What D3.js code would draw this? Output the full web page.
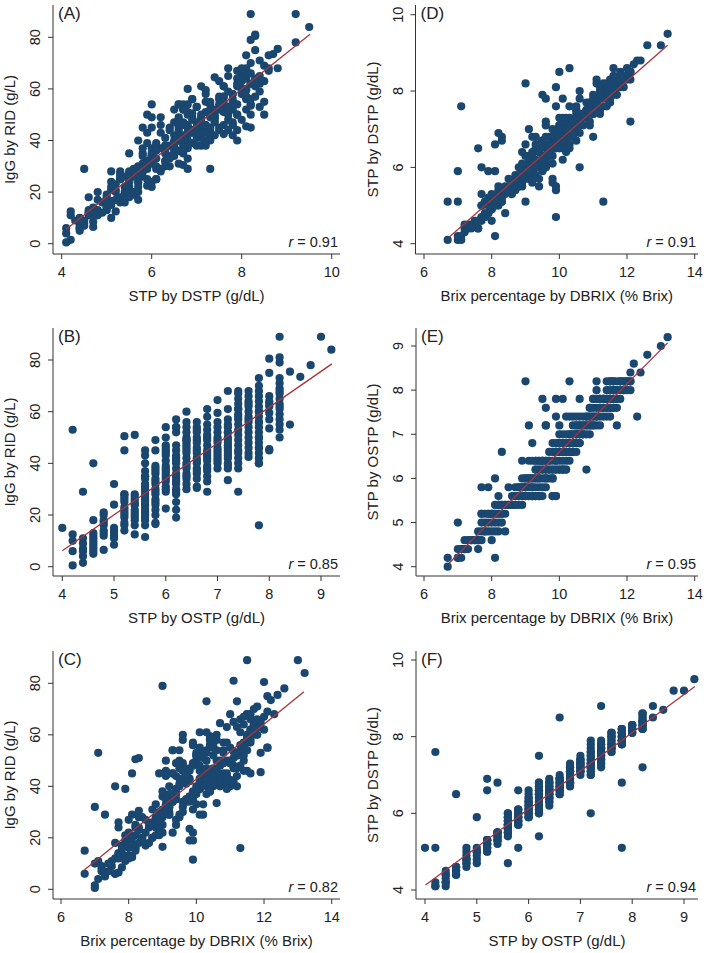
<!DOCTYPE html>
<html><head><meta charset="utf-8">
<script src="https://cdn.jsdelivr.net/npm/d3@7"></script>
<style>
body{margin:0;background:#fff}
text{font-family:Arial,"Liberation Sans",sans-serif;fill:#222}
</style>
</head><body>
<svg id="c" width="709" height="953"></svg>
<script>
// One record per calf: Brix (DBRIX), STP by DSTP, STP by OSTP, IgG by RID
const brix = [
 6.7,
 6.7,7.0,7.1,8.1,7.0,
 7.0,7.1,7.1,7.2,7.3,7.2,7.6,
 7.3,7.4,7.5,7.5,7.6,7.7,7.2,8.0,7.6,7.6,7.4,
 7.6,7.7,7.8,7.9,8.0,8.1,8.2,8.4,7.8,
 7.0,7.8,7.9,8.0,8.1,8.2,8.3,7.7,
 8.1,8.2,7.7,7.8,7.9,8.0,8.0,8.1,8.2,8.3,8.4,7.7,
 8.3,8.1,8.2,8.3,8.4,8.5,8.6,8.7,8.8,8.9,8.2,
 9.9,9.8,9.9,9.8,8.2,8.6,8.7,8.8,8.9,9.0,9.1,9.2,9.3,9.4,9.5,9.3,8.8,
 7.7,7.9,9.0,9.0,8.7,8.8,8.9,9.1,9.2,9.3,9.4,9.6,9.0,
 8.1,8.9,9.0,9.1,9.2,9.3,9.4,9.5,9.6,9.7,9.8,9.3,9.2,
 9.9,10.8,9.3,9.4,9.5,9.6,9.6,9.7,9.8,9.9,10.0,10.1,10.2,10.0,10.1,
 8.9,9.1,9.2,9.3,9.4,9.5,9.6,9.7,9.8,9.9,10.0,10.2,9.5,9.6,
 8.3,10.0,9.8,9.9,10.0,10.1,10.2,10.3,10.4,10.1,10.2,10.3,10.4,
 9.2,9.9,10.0,10.1,10.2,10.3,10.4,10.5,10.0,10.2,10.3,10.4,10.1,
 10.0,10.3,10.4,10.5,10.6,10.7,10.3,10.5,10.6,10.4,10.7,
 9.1,9.6,9.6,10.0,10.6,11.7,10.4,10.5,10.6,10.7,10.8,10.9,11.0,11.1,10.8,
 9.9,10.3,12.3,10.2,10.4,10.7,10.8,10.9,11.0,11.1,10.8,11.0,11.5,10.9,11.1,
 9.6,11.0,11.1,11.2,11.3,11.4,11.5,11.6,11.7,11.3,11.5,
 11.3,11.0,9.5,9.9,10.1,10.6,11.1,11.2,11.3,11.4,11.5,11.6,11.7,11.4,11.6,11.5,11.7,11.2,
 11.9,11.1,11.5,11.6,11.7,11.8,12.1,12.0,
 9.0,10.3,12.1,11.5,11.1,11.4,11.5,11.6,11.7,11.8,11.9,12.0,12.1,11.8,
 12.1,12.4,12.2,12.6,13.0,13.2,
 7.9,8.0, 8.4,8.6,8.5, 9.0,9.1,9.2,8.7,9.4, 8.8,9.2,9.5,8.9, 9.0,9.4,9.6,9.1,9.8,
 9.4,9.7,10.1,9.5,10.2,9.8, 9.3,9.7,10.1,9.9,10.3,9.4, 9.9,10.3,10.0,10.5,9.7,
 10.1,10.6,9.8,10.4,10.6, 10.2,10.8,10.5,10.1,10.9, 10.7,11.0,10.5,11.2,10.9,
 11.2,10.6,11.3,10.5,11.4, 11.2,10.9,11.6,11.4, 11.3,11.0,11.8,11.5, 11.9,11.4, 12.0,11.6,
 9.1,9.3,9.5,8.9,9.2,11.2,11.6,11.9,10.0,9.9,9.4,10.9,8.5,8.3
];
const dstp = [
 5.1,
 4.1,4.1,7.6,4.2,5.1,
 4.2,4.1,4.2,4.4,4.5,4.3,4.4,
 4.4,4.5,4.5,4.6,4.4,4.6,4.5,4.6,4.6,6.5,4.4,
 4.6,4.7,4.7,4.8,4.9,5.0,5.1,4.8,4.8,
 5.9,4.7,4.8,4.9,5.0,5.0,5.1,5.0,
 6.6,6.9,5.0,5.1,5.0,5.2,5.1,5.2,5.3,5.2,5.3,5.3,
 6.8,5.2,5.3,5.3,5.4,5.4,5.5,5.4,5.5,5.5,5.5,
 4.7,5.6,5.5,5.7,5.4,5.5,5.6,5.7,5.6,5.8,5.7,5.9,5.8,6.0,5.9,6.0,5.5,
 6.0,5.9,5.1,6.6,5.7,5.8,5.8,5.9,5.9,6.0,6.1,6.0,5.7,
 5.9,5.9,6.0,6.1,6.0,6.2,6.1,6.3,6.2,6.4,6.5,6.6,6.3,
 5.4,7.5,6.0,6.1,6.2,6.1,6.3,6.4,6.3,6.5,6.6,6.7,6.8,6.5,6.6,
 6.4,6.3,6.4,6.5,6.4,6.6,6.5,6.6,6.7,6.6,6.8,6.7,6.7,6.8,
 6.7,8.5,6.5,6.6,6.7,6.6,6.8,6.9,6.8,6.9,6.7,6.8,6.9,
 6.8,6.7,6.8,6.9,7.0,6.9,7.1,7.0,7.1,7.2,7.0,7.2,7.1,
 7.1,7.2,7.1,7.3,7.2,7.4,7.3,7.4,7.3,7.2,7.4,
 7.0,7.2,7.1,7.3,6.0,7.9,7.0,7.2,7.3,7.4,7.5,7.6,7.7,7.8,7.3,
 7.6,7.6,8.8,7.3,7.2,7.3,7.4,7.5,7.4,7.6,7.7,7.8,7.7,7.5,7.7,
 7.8,7.6,7.7,7.8,7.9,7.8,8.0,7.9,8.1,8.0,8.1,
 5.1,6.8,7.9,8.1,7.8,8.0,7.8,7.9,8.0,8.1,8.2,8.0,8.2,7.9,8.1,8.0,8.2,8.1,
 8.1,8.2,8.1,8.2,8.3,8.2,8.3,8.3,
 8.2,8.6,7.2,8.2,8.3,8.2,8.3,8.4,8.3,8.5,8.4,8.6,8.5,8.4,
 8.5,8.8,8.7,9.2,9.2,9.5,
 5.2,5.3, 5.5,5.3,5.5, 5.9,5.8,5.6,5.8,5.7, 6.0,5.8,6.1,6.1, 6.3,6.4,6.0,6.2,6.1,
 6.5,6.6,6.2,6.7,6.4,6.8, 6.8,6.3,6.5,6.9,6.6,6.6, 6.9,6.5,7.0,6.7,6.8,
 7.3,6.9,7.0,6.8,7.1, 7.0,7.3,7.5,7.2,7.1, 7.1,7.4,7.6,7.5,7.2,
 7.4,7.8,7.6,7.5,7.9, 8.0,7.7,8.1,7.6, 8.2,7.9,8.1,7.8, 8.3,8.1, 8.4,8.6,
 5.9,6.0,6.2,5.8,5.7,7.9,8.2,8.4,6.8,6.6,5.5,7.7,5.7,5.1
];
const ostp = [
 4.0,
 4.2,4.2,4.2,4.2,4.2,
 4.4,4.4,4.4,4.4,4.4,4.4,4.4,
 4.6,4.6,4.6,4.6,4.6,4.6,4.6,4.6,4.6,4.6,4.6,
 4.8,4.8,4.8,4.8,4.8,4.8,4.8,4.8,4.8,
 5.0,5.0,5.0,5.0,5.0,5.0,5.0,5.0,
 5.2,5.2,5.2,5.2,5.2,5.2,5.2,5.2,5.2,5.2,5.2,5.2,
 5.4,5.4,5.4,5.4,5.4,5.4,5.4,5.4,5.4,5.4,5.4,
 5.6,5.6,5.6,5.6,5.6,5.6,5.6,5.6,5.6,5.6,5.6,5.6,5.6,5.6,5.6,5.6,5.6,
 5.8,5.8,5.8,5.8,5.8,5.8,5.8,5.8,5.8,5.8,5.8,5.8,5.8,
 6.0,6.0,6.0,6.0,6.0,6.0,6.0,6.0,6.0,6.0,6.0,6.0,6.0,
 6.2,6.2,6.2,6.2,6.2,6.2,6.2,6.2,6.2,6.2,6.2,6.2,6.2,6.2,6.2,
 6.4,6.4,6.4,6.4,6.4,6.4,6.4,6.4,6.4,6.4,6.4,6.4,6.4,6.4,
 6.6,6.6,6.6,6.6,6.6,6.6,6.6,6.6,6.6,6.6,6.6,6.6,6.6,
 6.8,6.8,6.8,6.8,6.8,6.8,6.8,6.8,6.8,6.8,6.8,6.8,6.8,
 7.0,7.0,7.0,7.0,7.0,7.0,7.0,7.0,7.0,7.0,7.0,
 7.2,7.2,7.2,7.2,7.2,7.2,7.2,7.2,7.2,7.2,7.2,7.2,7.2,7.2,7.2,
 7.4,7.4,7.4,7.4,7.4,7.4,7.4,7.4,7.4,7.4,7.4,7.4,7.4,7.4,7.4,
 7.6,7.6,7.6,7.6,7.6,7.6,7.6,7.6,7.6,7.6,7.6,
 7.8,7.8,7.8,7.8,7.8,7.8,7.8,7.8,7.8,7.8,7.8,7.8,7.8,7.8,7.8,7.8,7.8,7.8,
 8.0,8.0,8.0,8.0,8.0,8.0,8.0,8.0,
 8.2,8.2,8.2,8.2,8.2,8.2,8.2,8.2,8.2,8.2,8.2,8.2,8.2,8.2,
 8.4,8.4,8.6,8.8,9.0,9.2,
 5.2,5.2, 5.4,5.4,5.4, 5.6,5.6,5.6,5.6,5.6, 5.8,5.8,5.8,5.8, 6.0,6.0,6.0,6.0,6.0,
 6.2,6.2,6.2,6.2,6.2,6.2, 6.4,6.4,6.4,6.4,6.4,6.4, 6.6,6.6,6.6,6.6,6.6,
 6.8,6.8,6.8,6.8,6.8, 7.0,7.0,7.0,7.0,7.0, 7.2,7.2,7.2,7.2,7.2,
 7.4,7.4,7.4,7.4,7.4, 7.6,7.6,7.6,7.6, 7.8,7.8,7.8,7.8, 8.0,8.0, 8.2,8.2,
 6.0,6.2,6.4,5.8,5.6,7.8,8.0,8.2,6.8,6.6,5.6,7.6,5.8,5.2
];
const igg = [
 15,
 6,0.5,53,12.5,10,
 1.5,4,11,7,29,9,6,
 5,7,9,11,6,12,8,13,18,40,10,
 12,6.5,14,13,16,18,21,20,17,
 32,8.5,11,12,13,15,24,14,
 45,50.5,14,16,19,17,22,20,25,23,28,26,
 51,12.5,16,18,20,22,24,26,28,21,24,
 11.5,19,22,23.5,16,18,20,24,26,28,30,32,34,37,43,45,21,
 24,39,16.5,36,20,26,28,30,32,34,38,49,22,
 29,22.5,31,33,35,37,39,41,43,45,47,54,30,
 19,57,22,25,28,30,32,34,36,38,40,42,45,52,54,
 30,32,34,36,38,40,42,44,46,48,50,52,54,60,
 30.5,50,34,36,38,40,42,44,46,48,52,54,56,
 29,35,37,39,41,43,45,47,49,51,53,58,61,
 38,40,42,44,46,48,50,52,54,59.5,64.5,
 44,46,48,52,33.5,61,38,40,42,50,54,57,68,47,45,
 57,61,68,29,38,40,42,45,49,51,53,55,59,63,65,
 58,42.5,48,52,54,56,60,62,64,66,68,
 16,40,50,56,46,60,42,44,48,52,54,58,62,64,66,68,70,73,
 45.5,53.5,59.5,62,64,66,75,80.5,
 79,73,55,89,81,50,57,59,61,63,65,67,69,71,
 55,75.5,73.5,78,89,84,
 21,27, 19,25,27, 25,35,29,31,27, 33,37,29,25, 38,44,34,46,36,
 35,41,29,47,33,43, 45,35,39,56,47,49, 49,37,53,41,45,
 55,44,42,38,50, 45,49,56,43,41, 43,49,55,52,39,
 47,58,61,44,67, 63,50,57,46, 56,50,60,46, 63,57, 62,68,
 50,54,49,45,40,40,45,53,33,31,35,44,17,28
];

// Fitted regression line end points
const fitA = [[4.1, 5.6], [9.52, 81.2]];
const fitB = [[4.0, 6.2], [9.21, 78.5]];
const fitC = [[6.66, 7.2], [13.18, 76.7]];
const fitD = [[6.74, 4.17], [13.2, 9.2]];
const fitE = [[6.74, 4.08], [13.2, 9.07]];
const fitF = [[4.01, 4.13], [9.21, 9.31]];

const rValues = ["0.91", "0.85", "0.82", "0.91", "0.95", "0.94"];
const panelLetters = ["(A)", "(B)", "(C)", "(D)", "(E)", "(F)"];

const ticksIgG = [0, 20, 40, 60, 80];
const ticksDSTPx = [4, 6, 8, 10];
const ticksOSTP = [4, 5, 6, 7, 8, 9];
const ticksBrix = [6, 8, 10, 12, 14];
const ticksDSTPy = [4, 6, 8, 10];
const ticksOSTPy = [4, 5, 6, 7, 8, 9];

const titleIgG = "IgG by RID (g/L)";
const titleDSTP = "STP by DSTP (g/dL)";
const titleOSTP = "STP by OSTP (g/dL)";
const titleBrix = "Brix percentage by DBRIX (% Brix)";

const panels = [
  {xv: dstp, yv: igg, xt: ticksDSTPx, yt: ticksIgG, xTitle: titleDSTP, yTitle: titleIgG, fit: fitA, r: rValues[0], lab: panelLetters[0],
   box: {l: 53, r: 340, t: 5, b: 254}, xr: [61.7, 331.7], yr: [243.7, 37.3]},
  {xv: ostp, yv: igg, xt: ticksOSTP, yt: ticksIgG, xTitle: titleOSTP, yTitle: titleIgG, fit: fitB, r: rValues[1], lab: panelLetters[1],
   box: {l: 53, r: 340, t: 328, b: 576}, xr: [62.3, 321], yr: [566.7, 360]},
  {xv: brix, yv: igg, xt: ticksBrix, yt: ticksIgG, xTitle: titleBrix, yTitle: titleIgG, fit: fitC, r: rValues[2], lab: panelLetters[2],
   box: {l: 53, r: 340, t: 651, b: 899}, xr: [61, 331.7], yr: [889.3, 683.3]},
  {xv: brix, yv: dstp, xt: ticksBrix, yt: ticksDSTPy, xTitle: titleBrix, yTitle: titleDSTP, fit: fitD, r: rValues[3], lab: panelLetters[3],
   box: {l: 415.5, r: 698, t: 5, b: 254}, xr: [424, 694.7], yr: [243.7, 14.7]},
  {xv: brix, yv: ostp, xt: ticksBrix, yt: ticksOSTPy, xTitle: titleBrix, yTitle: titleOSTP, fit: fitE, r: rValues[4], lab: panelLetters[4],
   box: {l: 416, r: 698, t: 328, b: 576}, xr: [424, 694.7], yr: [566.7, 346]},
  {xv: ostp, yv: dstp, xt: ticksOSTP, yt: ticksDSTPy, xTitle: titleOSTP, yTitle: titleDSTP, fit: fitF, r: rValues[5], lab: panelLetters[5],
   box: {l: 416, r: 698, t: 651, b: 899}, xr: [425, 684], yr: [890, 660]}
];

const svg = d3.select("#c");
const n = Math.min(brix.length, dstp.length, ostp.length, igg.length);
const dotColor = "#1a476f", lineColor = "#a8343a", axisColor = "#333";

panels.forEach(p => {
  const xt = p.xt, yt = p.yt;
  const x = d3.scaleLinear().domain([xt[0], xt[xt.length - 1]]).range(p.xr);
  const y = d3.scaleLinear().domain([yt[0], yt[yt.length - 1]]).range(p.yr);
  const g = svg.append("g");
  const b = p.box;

  const pts = d3.range(n).map(i => [p.xv[i], p.yv[i]]);
  g.append("g").selectAll("circle").data(pts).join("circle")
    .attr("cx", d => x(d[0])).attr("cy", d => y(d[1])).attr("r", 4.1)
    .attr("fill", dotColor);

  g.append("line")
    .attr("x1", x(p.fit[0][0])).attr("y1", y(p.fit[0][1]))
    .attr("x2", x(p.fit[1][0])).attr("y2", y(p.fit[1][1]))
    .attr("stroke", lineColor).attr("stroke-width", 1.3);

  g.append("line").attr("x1", b.l).attr("x2", b.l).attr("y1", b.t).attr("y2", b.b)
    .attr("stroke", axisColor).attr("stroke-width", 1);
  g.append("line").attr("x1", b.l).attr("x2", b.r).attr("y1", b.b).attr("y2", b.b)
    .attr("stroke", axisColor).attr("stroke-width", 1);

  xt.forEach(v => {
    g.append("line").attr("x1", x(v)).attr("x2", x(v)).attr("y1", b.b).attr("y2", b.b + 5)
      .attr("stroke", axisColor);
    g.append("text").attr("x", x(v)).attr("y", b.b + 23).attr("text-anchor", "middle")
      .attr("font-size", 14.5).text(v);
  });
  yt.forEach(v => {
    g.append("line").attr("x1", b.l - 5).attr("x2", b.l).attr("y1", y(v)).attr("y2", y(v))
      .attr("stroke", axisColor);
    g.append("text").attr("transform", `translate(${b.l - 13},${y(v)}) rotate(-90)`)
      .attr("text-anchor", "middle").attr("font-size", 14.5).text(v);
  });

  g.append("text").attr("x", (b.l + b.r) / 2).attr("y", b.b + 47).attr("text-anchor", "middle")
    .attr("font-size", 15).text(p.xTitle);
  g.append("text").attr("transform", `translate(${b.l - 38},${(b.t + b.b) / 2}) rotate(-90)`)
    .attr("text-anchor", "middle").attr("font-size", 15).text(p.yTitle);

  g.append("text").attr("x", b.l + 5).attr("y", b.t + 14).attr("font-size", 17).text(p.lab);

  const rt = g.append("text").attr("x", b.r - 2).attr("y", b.b - 7).attr("text-anchor", "end")
    .attr("font-size", 14.5);
  rt.append("tspan").attr("font-style", "italic").text("r");
  rt.append("tspan").text(" = " + p.r);
});
</script>
</body></html>
